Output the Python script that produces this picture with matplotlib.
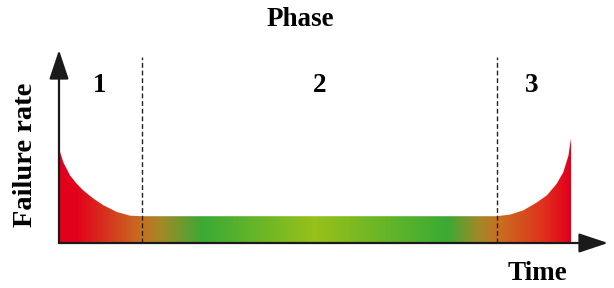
import numpy as np
import matplotlib
matplotlib.use("Agg")
import matplotlib.pyplot as plt
from matplotlib.colors import LinearSegmentedColormap
from matplotlib.patches import Polygon

# curva de la banera (tiempo 0-100, tasa relativa)
t_early = [0, 0.84, 2.15, 3.46, 4.75, 6.7, 8.65, 11.27, 13.87, 16.2]
r_early = [3.52, 3.01, 2.52, 2.21, 1.96, 1.66, 1.41, 1.16, 1.02, 1.0]
t_wear = [85.5, 88.1, 90.7, 93.3, 95.3, 97.2, 98.5, 99.5, 100]
r_wear = [1.0, 1.06, 1.22, 1.51, 1.78, 2.21, 2.64, 3.26, 3.9]
phase_bounds = [16.2, 85.5]
phase_labels = ["1", "2", "3"]
phase_label_t = [8.0, 50.9, 92.3]

# colores del degradado a lo largo del tiempo
grad_pos = [0, 3, 16, 20, 28, 50, 76, 82, 86, 95, 100]
grad_col = ["#e3001b", "#e3001b", "#c67020", "#a08a28", "#3aaa35", "#98c11a",
            "#3aaa35", "#a08a28", "#c87020", "#e0301c", "#e3001b"]

t_curve = np.array(t_early + t_wear)
r_curve = np.array(r_early + r_wear)

fig = plt.figure(figsize=(6.14, 2.88), dpi=100)
ax = fig.add_axes([0, 0, 1, 1])
ax.set_xlim(-59 / 5.12, (614 - 59) / 5.12)
ax.set_ylim(-45 / 26.8, 243 / 26.8)
ax.axis("off")

# relleno con degradado recortado por la curva
cmap = LinearSegmentedColormap.from_list(
    "banera", list(zip(np.array(grad_pos) / 100.0, grad_col)))
grad = np.linspace(0, 1, 600).reshape(1, -1)
im = ax.imshow(grad, cmap=cmap, extent=[0, 100, 0, r_curve.max()],
               aspect="auto", origin="lower", zorder=1)
verts = list(zip(t_curve, r_curve)) + [(100, 0), (0, 0)]
clip = Polygon(verts, closed=True, facecolor="none", edgecolor="none")
ax.add_patch(clip)
im.set_clip_path(clip)

# lineas de fase
for b in phase_bounds:
    ax.plot([b, b], [0, 6.94], color="#222222", lw=1.0,
            linestyle=(0, (3.5, 2)), zorder=3)

# ejes con flechas
x_end = (608 - 59) / 5.12
y_end = (243 - 50) / 26.8
arrow = dict(arrowstyle="-|>,head_length=1.8,head_width=0.6", color="#1a1a1a",
             lw=1.6, shrinkA=0, shrinkB=0, mutation_scale=10)
ax.annotate("", xy=(x_end, 0), xytext=(0, 0), arrowprops=arrow, zorder=4)
ax.annotate("", xy=(0, y_end), xytext=(0, 0), arrowprops=arrow, zorder=4)

font = dict(family="Liberation Serif", fontweight="bold", fontsize=19.5)
for lab, tx in zip(phase_labels, phase_label_t):
    ax.text(tx, (243 - 86) / 26.8, lab, ha="center", va="center", **font)

fig.text(300 / 614, 1 - 19 / 288, "Phase", ha="center", va="center", **font)
fig.text(26 / 614, 1 - 155 / 288, "Failure rate", ha="center", va="center",
         rotation=90, family="Liberation Serif", fontweight="bold",
         fontsize=20.5)
fig.text(537 / 614, 1 - 273 / 288, "Time", ha="center", va="center", **font)

fig.savefig("out.png", dpi=100)
